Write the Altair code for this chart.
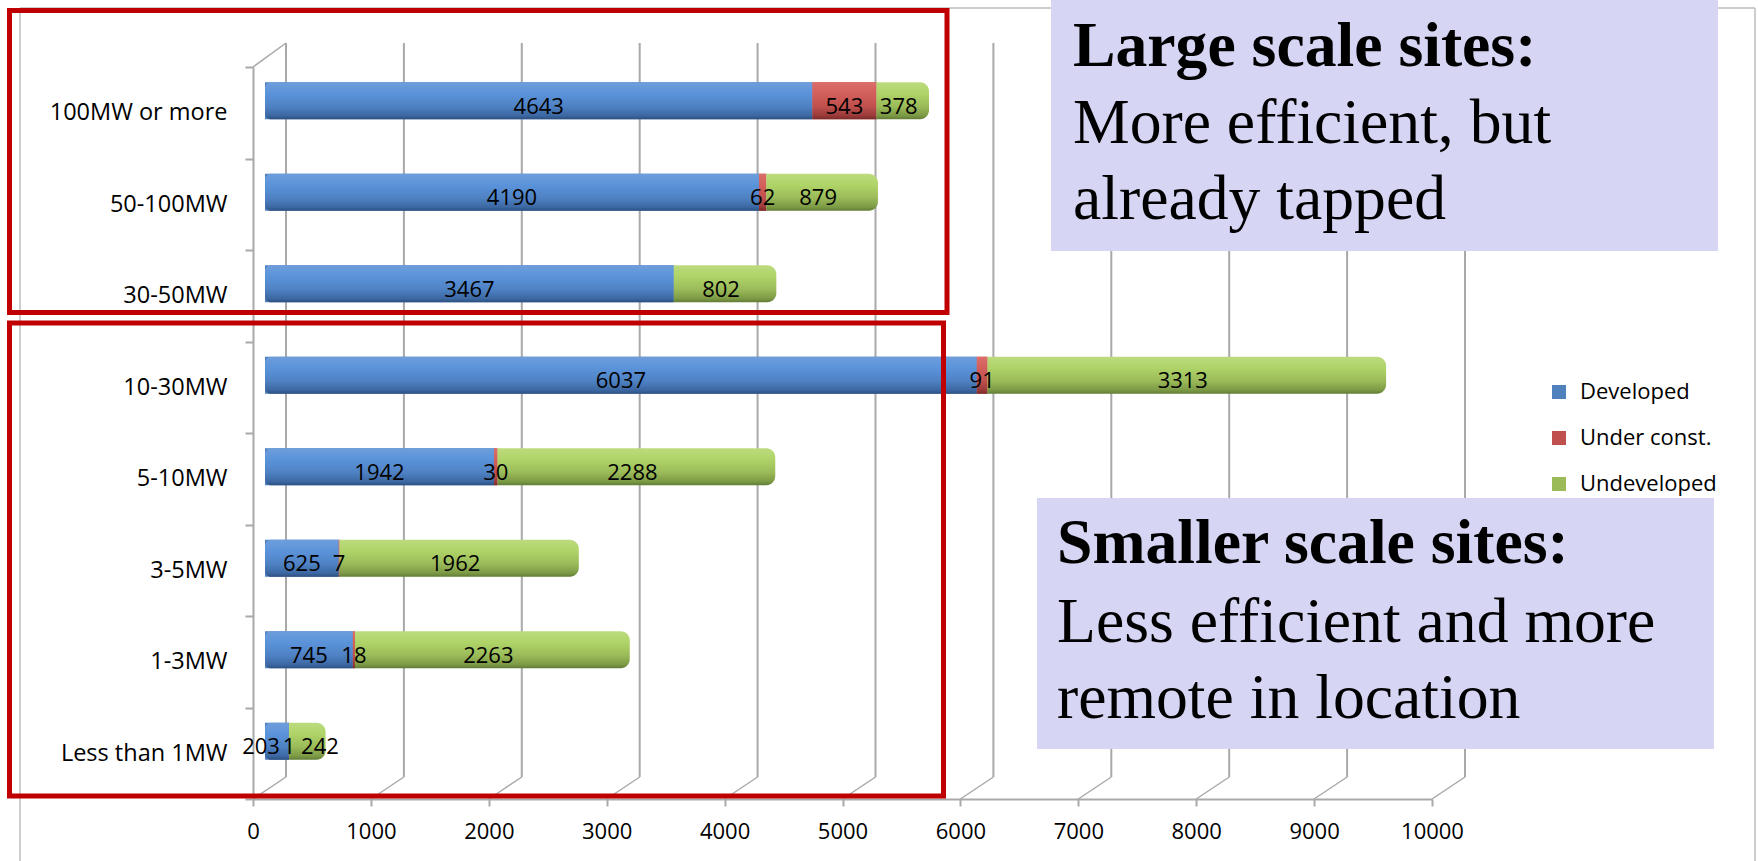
import altair as alt
import pandas as pd

categories = ["100MW or more", "50-100MW", "30-50MW", "10-30MW",
              "5-10MW", "3-5MW", "1-3MW", "Less than 1MW"]
developed = [4643, 4190, 3467, 6037, 1942, 625, 745, 203]
under_const = [543, 62, 0, 91, 30, 7, 18, 1]
undeveloped = [378, 879, 802, 3313, 2288, 1962, 2263, 242]
series = ["Developed", "Under const.", "Undeveloped"]
colors = ["#4F81BD", "#C0504D", "#9BBB59"]
x_ticks = [0, 1000, 2000, 3000, 4000, 5000, 6000, 7000, 8000, 9000, 10000]

rows = []
for i, c in enumerate(categories):
    for j, vals in enumerate([developed, under_const, undeveloped]):
        rows.append({"cat": c, "series": series[j], "order": j, "value": vals[i]})
df = pd.DataFrame(rows)
grid_df = pd.DataFrame({"v": x_ticks})
one = pd.DataFrame({"a": [1]})

W, H = 1179, 732
OX, OY = 253, 67  # plot origin on the page

xscale = alt.Scale(domain=[0, 10000], nice=False, zero=True)
yscale = alt.Scale(domain=categories, paddingInner=0, paddingOuter=0)
GRID = "#A9A9A9"
FONT = "Open Sans"

X_AX = alt.Axis(values=x_ticks, format="d", grid=False, labelFont=FONT, labelFontSize=22,
                labelColor="black", domainColor=GRID, domainWidth=2,
                tickColor=GRID, tickWidth=2, tickSize=7, labelPadding=15,
                labelFlush=False, labelOverlap=False, title=None)
Y_AX = alt.Axis(tickBand="extent", labelFont=FONT, labelFontSize=23.5, labelColor="black",
                domainColor=GRID, domainWidth=2, tickColor=GRID, tickWidth=2,
                tickSize=8, labelPadding=18, grid=False, title=None)


def xq(field):
    return alt.X(field, scale=xscale, axis=X_AX, title=None)


def yc():
    return alt.Y("cat:N", scale=yscale, sort=categories, axis=Y_AX, title=None)


base = alt.Chart(df).transform_stack(
    stack="value", groupby=["cat"], as_=["x0", "x1"],
    sort=[alt.SortField("order", order="ascending")]
).transform_calculate(mid="(datum.x0 + datum.x1) / 2")

# outer chart frame
frame = alt.layer(
    alt.Chart(one).mark_rule(color="#BDBDBD", strokeWidth=1.5).encode(
        x=alt.value(20 - OX), y=alt.value(8 - OY), y2=alt.value(861 - OY)),
    alt.Chart(one).mark_rule(color="#BDBDBD", strokeWidth=1.5).encode(
        x=alt.value(20 - OX), x2=alt.value(1755 - OX), y=alt.value(8 - OY)),
    alt.Chart(one).mark_rule(color="#BDBDBD", strokeWidth=1.5).encode(
        x=alt.value(1755 - OX), y=alt.value(8 - OY), y2=alt.value(861 - OY)),
)

# back-wall gridlines (3D look)
grid_back = alt.Chart(grid_df).mark_rule(color=GRID, strokeWidth=2, xOffset=33).encode(
    x=xq("v:Q"), y=alt.value(-24), y2=alt.value(H - 22))
grid_slant = alt.Chart(grid_df).mark_rule(color=GRID, strokeWidth=1.5, xOffset=33, x2Offset=0).encode(
    x=xq("v:Q"), x2="v:Q", y=alt.value(H - 22), y2=alt.value(H))
top_slant = alt.Chart(grid_df).transform_filter("datum.v == 0").mark_rule(
    color=GRID, strokeWidth=1.5, x2Offset=33).encode(
    x=xq("v:Q"), x2="v:Q", y=alt.value(0), y2=alt.value(-24))

flat = base.transform_filter("datum.series != 'Undeveloped'").mark_bar(
    size=37, xOffset=12, x2Offset=12, yOffset=-12).encode(
    x=xq("x0:Q"),
    x2="x1:Q",
    y=yc(),
    color=alt.Color("series:N", scale=alt.Scale(domain=series, range=colors),
                    legend=alt.Legend(title=None, orient="none", legendX=1295, legendY=314,
                                      symbolType="square", symbolSize=196, symbolStrokeWidth=0,
                                      labelFont=FONT, labelFontSize=22, labelColor="black",
                                      rowPadding=24, labelOffset=10)),
)


def grad(stops):
    return alt.Gradient(gradient="linear", x1=0, y1=0, x2=0, y2=1,
                        stops=[alt.GradientStop(color=c, offset=o) for o, c in stops])


grads = [
    grad([(0, "#6E9EDB"), (0.3, "#5B93DA"), (0.65, "#4F82C4"), (0.9, "#3C68A3"), (1, "#2D5080")]),
    grad([(0, "#DC6E6B"), (0.3, "#D35F5B"), (0.65, "#C0504D"), (0.9, "#9A3B39"), (1, "#7A2B2A")]),
    grad([(0, "#BCDB7E"), (0.3, "#AFD468"), (0.65, "#9BBB59"), (0.9, "#7C9A45"), (1, "#627C35")]),
]
grad_layers = []
for j, s in enumerate(series):
    extra = dict(xOffset=12, x2Offset=12)
    if j == 0:
        extra.update(cornerRadiusTopLeft=6, cornerRadiusBottomLeft=6)
    if j == 2:
        # cylinder end cap
        extra.update(x2Offset=20, cornerRadiusTopRight=9, cornerRadiusBottomRight=9)
    grad_layers.append(
        base.transform_filter(alt.datum.series == s).mark_bar(
            size=37, yOffset=-12, fill=grads[j], **extra).encode(
            x=xq("x0:Q"), x2="x1:Q", y=yc()))

TXT = dict(yOffset=-6, font=FONT, fontSize=22, color="black", baseline="middle")
wide = "datum.value > 0 && (datum.value >= 300 || datum.series == 'Under const.')"
labels = base.transform_filter(wide).mark_text(xOffset=12, **TXT).encode(
    x=xq("mid:Q"), y=yc(), text=alt.Text("value:Q", format="d"))
# narrow segments: label pushed out of the way like Excel does
labels_dev_narrow = base.transform_filter(
    "datum.value > 0 && datum.value < 300 && datum.series == 'Developed'").mark_text(
    xOffset=3, align="right", **TXT).encode(
    x=xq("x1:Q"), y=yc(), text=alt.Text("value:Q", format="d"))
labels_und_narrow = base.transform_filter(
    "datum.value > 0 && datum.value < 300 && datum.series == 'Undeveloped'").mark_text(
    xOffset=24, align="left", **TXT).encode(
    x=xq("x0:Q"), y=yc(), text=alt.Text("value:Q", format="d"))

red_boxes = alt.layer(
    alt.Chart(one).mark_rect(fill="transparent", stroke="#C00000", strokeWidth=5).encode(
        x=alt.value(9.5 - OX), x2=alt.value(947 - OX), y=alt.value(10.5 - OY), y2=alt.value(312.5 - OY)),
    alt.Chart(one).mark_rect(fill="transparent", stroke="#C00000", strokeWidth=5).encode(
        x=alt.value(9.5 - OX), x2=alt.value(943.5 - OX), y=alt.value(323 - OY), y2=alt.value(796 - OY)),
)

LAV = "#D6D6F4"
note_boxes = alt.layer(
    alt.Chart(one).mark_rect(fill=LAV).encode(
        x=alt.value(1051 - OX), x2=alt.value(1718 - OX), y=alt.value(0 - OY), y2=alt.value(251 - OY)),
    alt.Chart(one).mark_rect(fill=LAV).encode(
        x=alt.value(1037 - OX), x2=alt.value(1714 - OX), y=alt.value(498 - OY), y2=alt.value(749 - OY)),
)


def note(text, x, y, bold=False):
    return alt.Chart(one).mark_text(
        font="Liberation Serif", fontSize=63.7, align="left", baseline="alphabetic",
        fontWeight="bold" if bold else "normal", color="black").encode(
        x=alt.value(x - OX), y=alt.value(y - OY), text=alt.value(text))


notes = alt.layer(
    note("Large scale sites:", 1073, 66, True),
    note("More efficient, but", 1073, 143),
    note("already tapped", 1073, 219),
    note("Smaller scale sites:", 1057, 563, True),
    note("Less efficient and more", 1057, 642),
    note("remote in location", 1057, 718),
)

chart = alt.layer(
    frame, grid_back, grid_slant, top_slant, flat, *grad_layers,
    labels, labels_dev_narrow, labels_und_narrow,
    red_boxes, note_boxes, notes
).properties(
    width=W, height=H,
    autosize=alt.AutoSizeParams(type="none"),
    padding={"left": OX, "top": OY, "right": 1758 - OX - W, "bottom": 861 - OY - H},
    background="white",
).configure_view(stroke=None)

chart.save("out.html", embed_options={"renderer": "svg", "actions": False})
